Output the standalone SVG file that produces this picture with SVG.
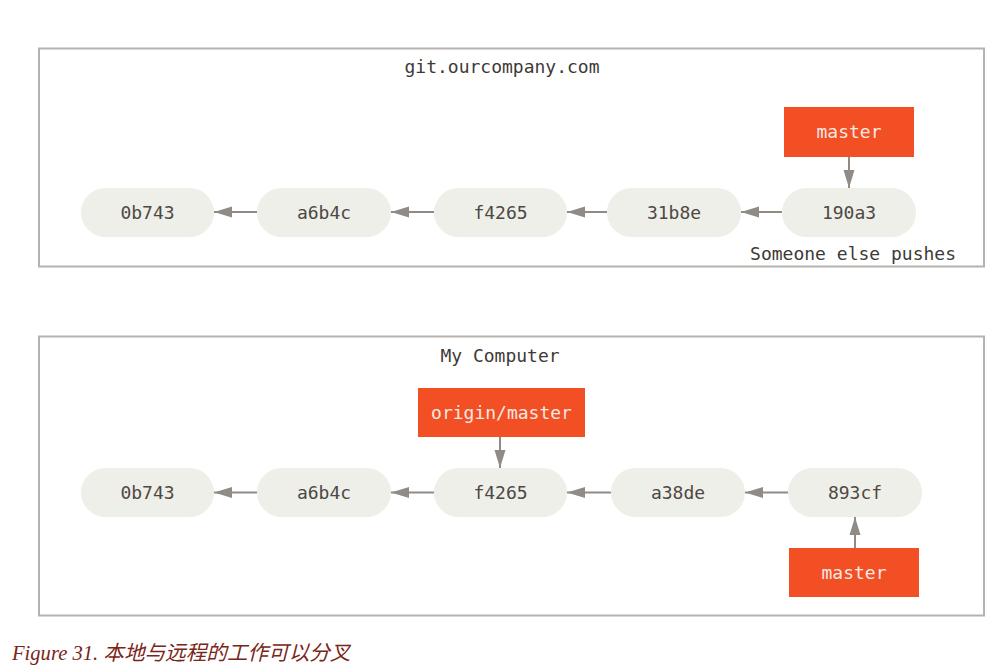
<svg xmlns="http://www.w3.org/2000/svg" width="1003" height="667" viewBox="0 0 1003 667">
<style>
.frame{fill:#fff;stroke:#b5b2ad;stroke-width:2}
.commit rect{fill:#efefe9}
.commit text{font-family:"DejaVu Sans Mono",monospace;font-size:18px;fill:#4d4843;text-anchor:middle}
.branch rect{fill:#f24f24}
.branch text{font-family:"DejaVu Sans Mono",monospace;font-size:18px;fill:#f7e9e2;text-anchor:middle}
.label{font-family:"DejaVu Sans Mono",monospace;font-size:18px;fill:#3e3a36}
.conn line{stroke:#908b85;stroke-width:2;marker-end:url(#ah)}
.cap{font-family:"Liberation Serif","Noto Sans CJK SC",serif;font-style:italic;font-size:20.6px;fill:#7a2518}
</style>
<defs>
<marker id="ah" markerUnits="userSpaceOnUse" markerWidth="20" markerHeight="14" refX="18" refY="7" orient="auto">
<path d="M0,1.5 L18,7 L0,12.5 Z" fill="#908b85"/>
</marker>
</defs>
<rect class="frame" x="39" y="48.5" width="945" height="218"/>
<text class="label" x="502" y="73" text-anchor="middle">git.ourcompany.com</text>
<text class="label" x="956" y="260" text-anchor="end">Someone else pushes</text>
<rect class="frame" x="39" y="336.5" width="945" height="279"/>
<text class="label" x="500" y="362" text-anchor="middle">My Computer</text>

<g id="connectors" class="conn">
<line x1="257" y1="212" x2="214" y2="212"/>
<line x1="434" y1="212" x2="391" y2="212"/>
<line x1="607" y1="212" x2="567" y2="212"/>
<line x1="782" y1="212" x2="741" y2="212"/>
<line x1="849" y1="157" x2="849" y2="188"/>
<line x1="257" y1="492.5" x2="214" y2="492.5"/>
<line x1="434" y1="492.5" x2="391" y2="492.5"/>
<line x1="611" y1="492.5" x2="567" y2="492.5"/>
<line x1="788" y1="492.5" x2="745" y2="492.5"/>
<line x1="500" y1="437" x2="500" y2="468"/>
<line x1="855" y1="548" x2="855" y2="517"/>
</g>

<g id="r-0b743" class="commit"><rect x="81" y="188" width="133" height="49" rx="24.5"/><text x="147.5" y="219">0b743</text></g>
<g id="r-a6b4c" class="commit"><rect x="257" y="188" width="134" height="49" rx="24.5"/><text x="324" y="219">a6b4c</text></g>
<g id="r-f4265" class="commit"><rect x="434" y="188" width="133" height="49" rx="24.5"/><text x="500.5" y="219">f4265</text></g>
<g id="r-31b8e" class="commit"><rect x="607" y="188" width="134" height="49" rx="24.5"/><text x="674" y="219">31b8e</text></g>
<g id="r-190a3" class="commit"><rect x="782" y="188" width="134" height="49" rx="24.5"/><text x="849" y="219">190a3</text></g>
<g id="r-master" class="branch"><rect x="784" y="107" width="130" height="50"/><text x="849" y="138">master</text></g>

<g id="l-0b743" class="commit"><rect x="81" y="468" width="133" height="49" rx="24.5"/><text x="147.5" y="499">0b743</text></g>
<g id="l-a6b4c" class="commit"><rect x="257" y="468" width="134" height="49" rx="24.5"/><text x="324" y="499">a6b4c</text></g>
<g id="l-f4265" class="commit"><rect x="434" y="468" width="133" height="49" rx="24.5"/><text x="500.5" y="499">f4265</text></g>
<g id="l-a38de" class="commit"><rect x="611" y="468" width="134" height="49" rx="24.5"/><text x="678" y="499">a38de</text></g>
<g id="l-893cf" class="commit"><rect x="788" y="468" width="134" height="49" rx="24.5"/><text x="855" y="499">893cf</text></g>
<g id="l-origin-master" class="branch"><rect x="418" y="388" width="167" height="49"/><text x="501.5" y="419">origin/master</text></g>
<g id="l-master" class="branch"><rect x="789" y="548" width="130" height="49"/><text x="854" y="579">master</text></g>

<text class="cap" x="12" y="660">Figure 31. 本地与远程的工作可以分叉</text>
</svg>
